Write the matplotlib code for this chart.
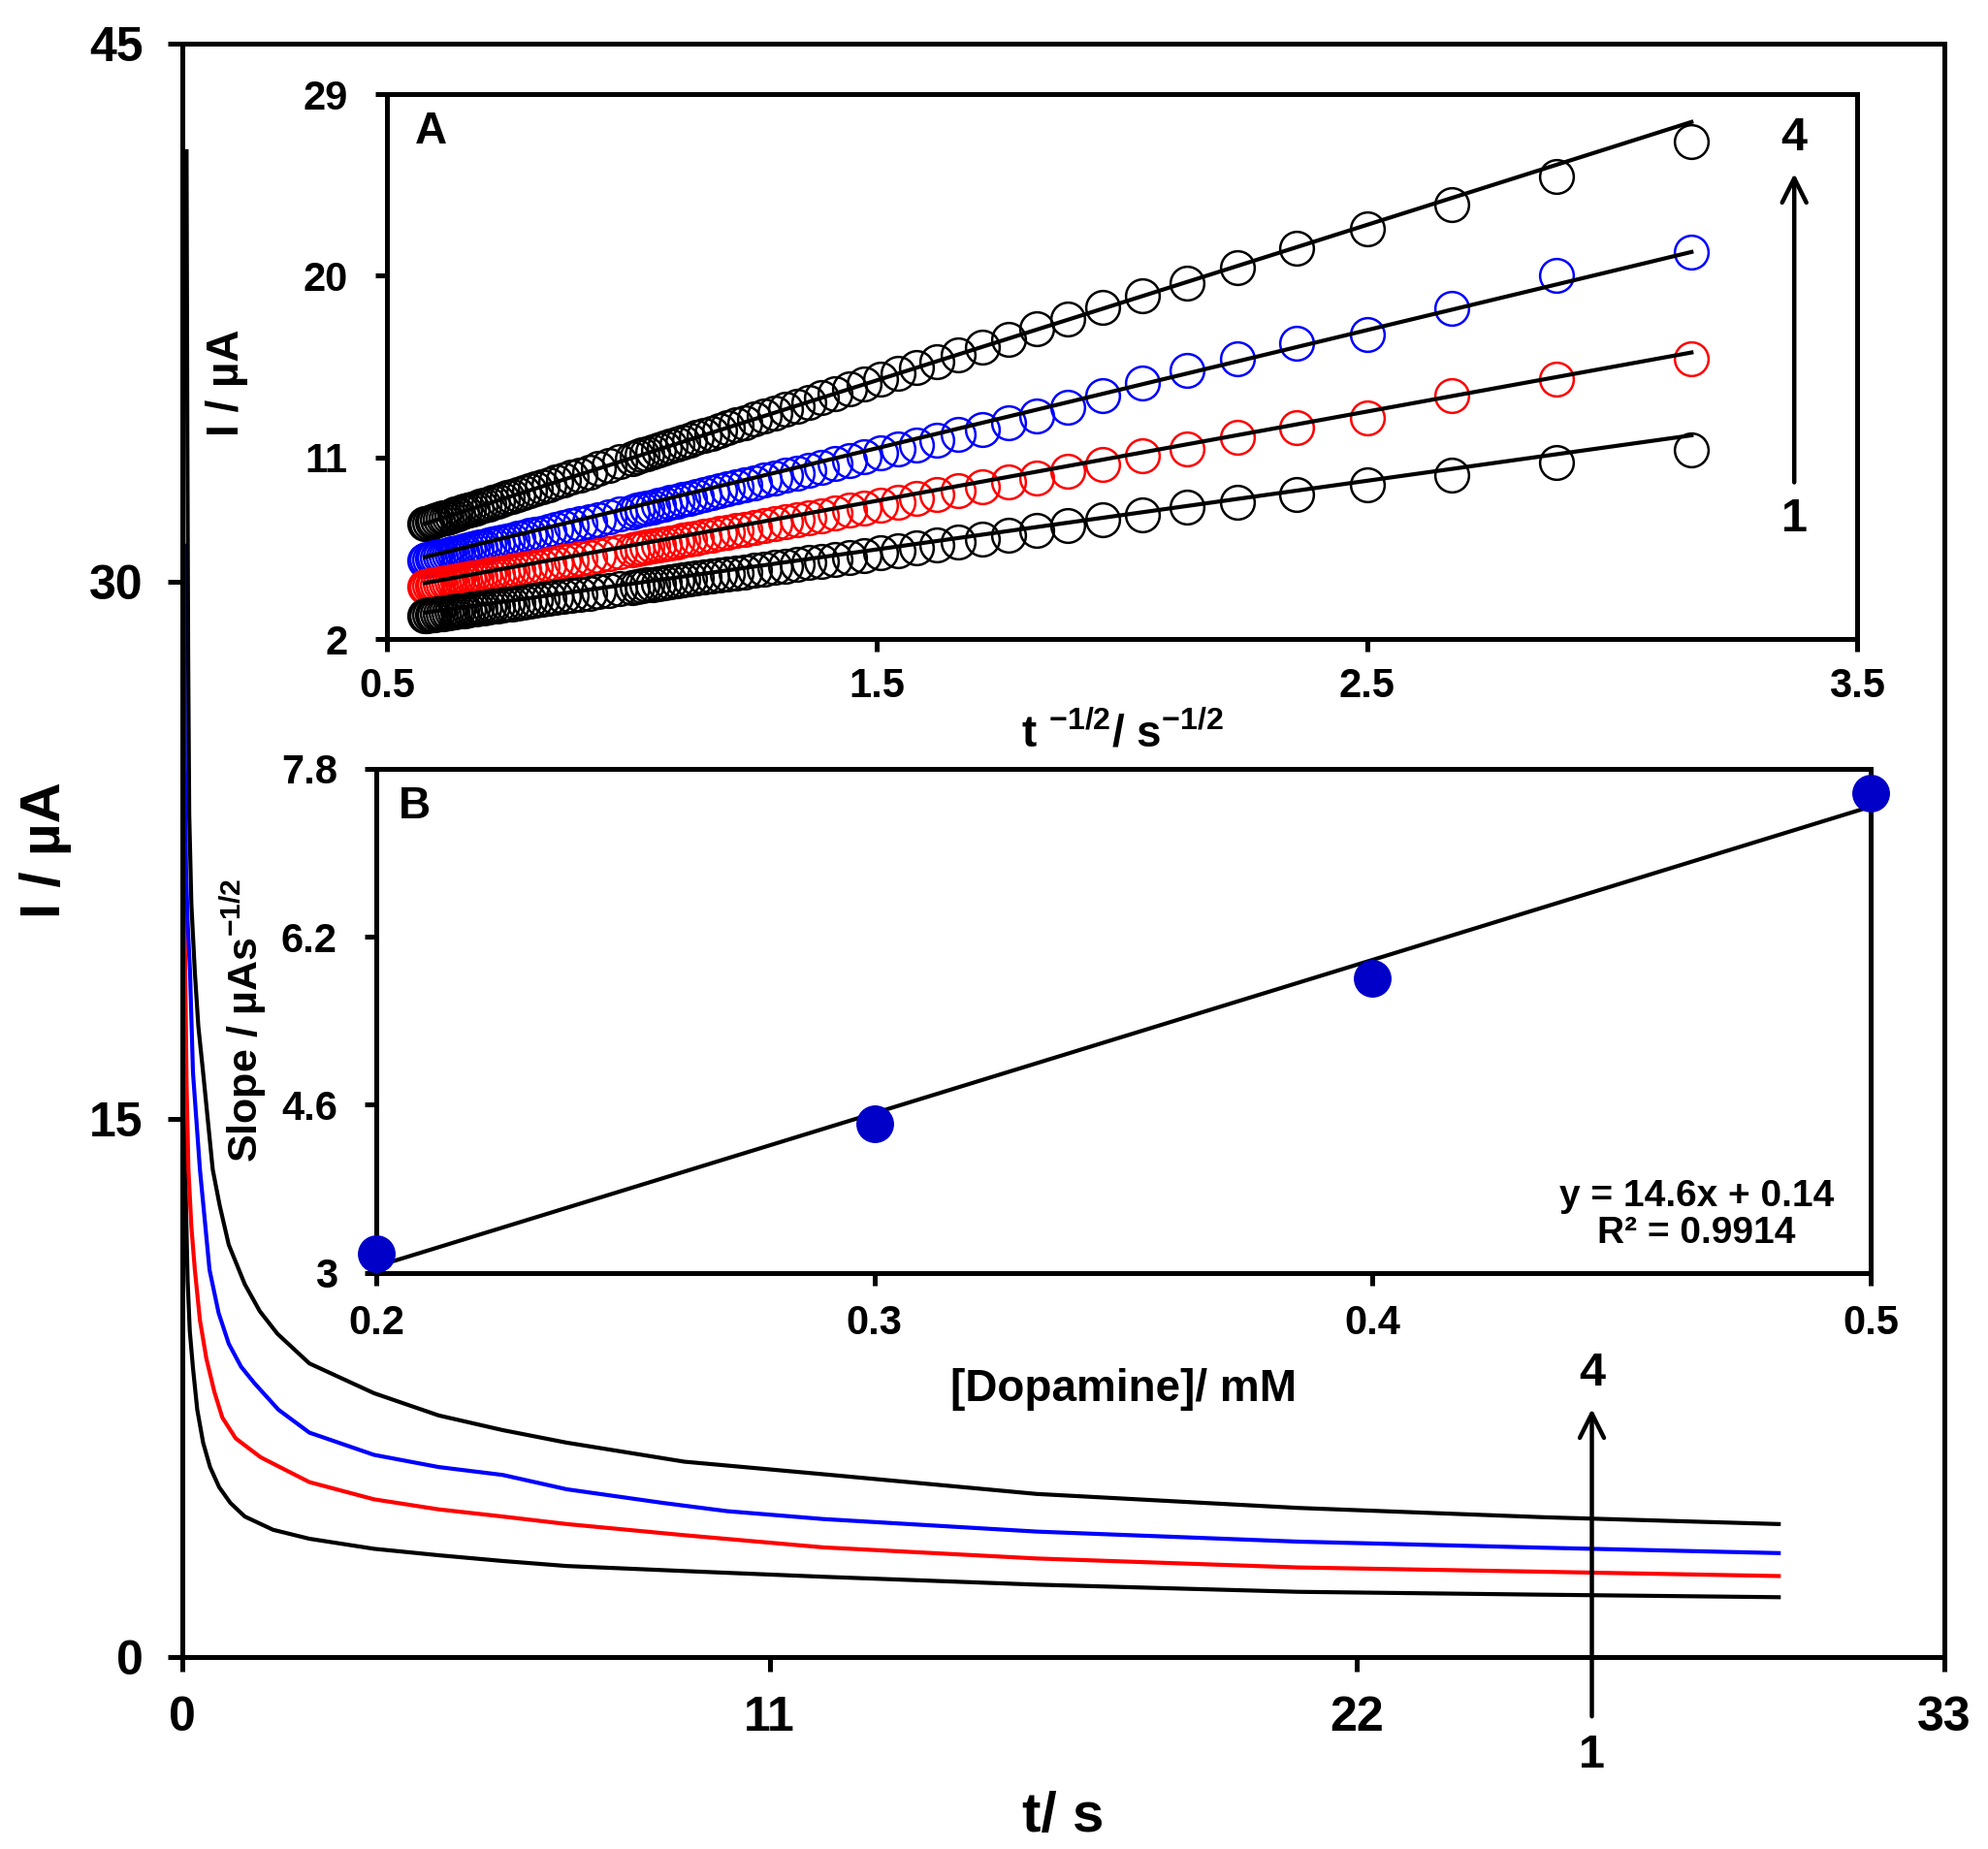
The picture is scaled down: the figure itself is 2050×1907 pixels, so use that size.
import numpy as np
import matplotlib.pyplot as plt

plt.rcParams['font.family'] = ['Liberation Sans', 'DejaVu Sans']
plt.rcParams['font.weight'] = 'bold'
plt.rcParams['mathtext.fontset'] = 'custom'
plt.rcParams['mathtext.rm'] = 'Liberation Sans:bold'
plt.rcParams['mathtext.it'] = 'Liberation Sans:bold'
plt.rcParams['mathtext.bf'] = 'Liberation Sans:bold'

# ---- main chronoamperograms (curves 1..4) ----
t1 = [0.02, 0.04, 0.07, 0.1, 0.14, 0.2, 0.28, 0.39, 0.52, 0.69, 0.9, 1.17, 1.7, 2.38, 3.59, 4.8, 6.0, 7.2,
      9.4, 12.0, 16.0, 20.9, 25.5, 29.9]
i1 = [18.0, 15.0, 12.5, 10.5, 9.1, 8.06, 6.9, 5.98, 5.3, 4.74, 4.3, 3.92, 3.55, 3.30, 3.02, 2.84, 2.68, 2.54,
      2.4, 2.24, 2.02, 1.82, 1.74, 1.67]

t2 = [0.03, 0.04, 0.055, 0.08, 0.115, 0.17, 0.235, 0.33, 0.45, 0.6, 0.75, 1.0, 1.47, 2.38, 3.59, 4.8, 6.0, 7.2,
      9.4, 12.0, 16.0, 20.9, 25.5, 29.9]
i2 = [24.0, 21.5, 19.1, 16.0, 13.6, 12.0, 10.8, 9.4, 8.33, 7.4, 6.68, 6.1, 5.57, 4.88, 4.40, 4.12, 3.92, 3.71,
      3.4, 3.06, 2.75, 2.5, 2.38, 2.26]

t3 = [0.04, 0.05, 0.07, 0.1, 0.145, 0.2, 0.33, 0.51, 0.68, 0.87, 1.1, 1.35, 1.8, 2.38, 3.59, 4.8, 6.0, 7.2,
      9.0, 10.2, 12.0, 16.0, 20.9, 25.5, 29.9]
i3 = [31.0, 25.0, 22.0, 20.5, 19.1, 16.3, 13.6, 10.8, 9.6, 8.74, 8.1, 7.64, 6.9, 6.26, 5.64, 5.3, 5.08, 4.68,
      4.3, 4.07, 3.85, 3.5, 3.22, 3.05, 2.9]

t4 = [0.08, 0.095, 0.11, 0.13, 0.17, 0.235, 0.3, 0.39, 0.47, 0.57, 0.7, 0.87, 1.17, 1.45, 1.78, 2.38, 3.59,
      4.8, 6.0, 7.2, 9.4, 12.0, 16.0, 20.9, 25.5, 29.9]
i4 = [42.0, 34.0, 28.0, 23.5, 21.0, 19.1, 17.6, 16.3, 15.1, 13.6, 12.6, 11.5, 10.4, 9.65, 9.02, 8.19, 7.36,
      6.74, 6.33, 5.98, 5.45, 5.1, 4.55, 4.16, 3.9, 3.71]

main_colors = ['black', 'red', 'blue', 'black']

# ---- inset A: Cottrell plot, I vs t^-1/2 (sampling times in s) ----
t_a = [0.10, 0.12, 0.14, 0.16, 0.18, 0.20, 0.22, 0.24, 0.26, 0.28, 0.30, 0.32, 0.34, 0.36, 0.38,
       0.40, 0.42, 0.44, 0.46, 0.48, 0.50,
       0.52, 0.54, 0.56, 0.58, 0.60, 0.62, 0.64, 0.66, 0.68, 0.70, 0.72, 0.74, 0.76, 0.78, 0.80,
       0.82, 0.84, 0.86, 0.88, 0.90, 0.92, 0.94, 0.96, 0.98, 1.00,
       1.05, 1.10, 1.15, 1.20, 1.25, 1.30, 1.35, 1.40, 1.45, 1.50, 1.55, 1.60, 1.65, 1.70, 1.75,
       1.80, 1.85, 1.90, 1.95, 2.00, 2.05, 2.10, 2.15, 2.20, 2.25, 2.30, 2.35, 2.40, 2.45, 2.50,
       2.55, 2.60, 2.65, 2.70, 2.75, 2.80, 2.85, 2.90, 2.95, 3.00]

a1 = [11.36, 10.74, 10.1, 9.63, 9.15, 8.77, 8.53, 8.16, 7.92, 7.63, 7.38, 7.14, 6.96, 6.80, 6.65,
      6.51, 6.39, 6.27, 6.15, 6.05, 5.95,
      5.86, 5.78, 5.69, 5.62, 5.54, 5.47, 5.40, 5.34, 5.28, 5.22, 5.17, 5.11, 5.06, 5.01, 4.96,
      4.92, 4.87, 4.83, 4.79, 4.75, 4.71, 4.67, 4.64, 4.60, 4.57,
      4.49, 4.41, 4.34, 4.28, 4.21, 4.16, 4.10, 4.05, 4.00, 3.95, 3.91, 3.87, 3.82, 3.79, 3.75,
      3.71, 3.68, 3.65, 3.62, 3.59, 3.56, 3.53, 3.50, 3.47, 3.45, 3.42, 3.40, 3.38, 3.36, 3.33,
      3.31, 3.29, 3.27, 3.26, 3.24, 3.22, 3.20, 3.18, 3.17, 3.15]
a2 = [15.88, 14.9, 14.05, 12.95, 12.47, 12.0, 11.4, 11.1, 10.66, 10.3, 10.0, 9.78, 9.55, 9.34, 9.15,
      8.97, 8.80, 8.65, 8.50, 8.37, 8.24,
      8.12, 8.01, 7.90, 7.80, 7.70, 7.61, 7.52, 7.44, 7.36, 7.28, 7.22, 7.14, 7.08, 7.01, 6.95,
      6.89, 6.83, 6.77, 6.72, 6.67, 6.62, 6.57, 6.53, 6.48, 6.43,
      6.33, 6.23, 6.14, 6.06, 5.97, 5.90, 5.83, 5.76, 5.69, 5.63, 5.58, 5.52, 5.47, 5.42, 5.37,
      5.32, 5.28, 5.24, 5.20, 5.16, 5.12, 5.08, 5.05, 5.01, 4.98, 4.95, 4.92, 4.89, 4.86, 4.83,
      4.80, 4.78, 4.75, 4.73, 4.70, 4.68, 4.66, 4.63, 4.61, 4.59]
a3 = [21.17, 20.0, 18.4, 17.1, 16.67, 15.88, 15.32, 14.68, 14.05, 13.5, 13.07, 12.7, 12.40, 12.12, 11.87,
      11.63, 11.42, 11.22, 11.02, 10.84, 10.68,
      10.53, 10.38, 10.23, 10.10, 9.98, 9.86, 9.74, 9.63, 9.53, 9.43, 9.34, 9.24, 9.15, 9.07, 8.99,
      8.91, 8.83, 8.76, 8.69, 8.62, 8.56, 8.49, 8.44, 8.37, 8.32,
      8.18, 8.05, 7.93, 7.82, 7.71, 7.61, 7.52, 7.43, 7.34, 7.26, 7.19, 7.12, 7.05, 6.98, 6.92,
      6.86, 6.80, 6.75, 6.69, 6.64, 6.59, 6.55, 6.50, 6.45, 6.41, 6.37, 6.33, 6.29, 6.25, 6.21,
      6.18, 6.15, 6.11, 6.08, 6.05, 6.02, 5.99, 5.96, 5.93, 5.90]
a4 = [26.67, 24.9, 23.55, 22.33, 21.36, 20.42, 19.64, 19.02, 18.41, 17.85, 17.37, 16.85, 16.47, 16.10, 15.76,
      15.44, 15.15, 14.88, 14.62, 14.38, 14.15,
      13.95, 13.74, 13.55, 13.37, 13.20, 13.04, 12.89, 12.74, 12.60, 12.46, 12.34, 12.21, 12.09, 11.98, 11.87,
      11.76, 11.66, 11.56, 11.47, 11.38, 11.29, 11.20, 11.12, 11.04, 10.96,
      10.78, 10.60, 10.45, 10.29, 10.14, 10.01, 9.89, 9.77, 9.65, 9.54, 9.44, 9.35, 9.25, 9.16, 9.08,
      9.00, 8.92, 8.84, 8.77, 8.70, 8.63, 8.57, 8.51, 8.45, 8.39, 8.33, 8.28, 8.22, 8.18, 8.12,
      8.08, 8.03, 7.99, 7.95, 7.90, 7.86, 7.82, 7.78, 7.74, 7.70]

# linear fits drawn through each set (slope, intercept)
fit_a = [(3.4, 1.34), (4.42, 2.22), (5.85, 2.68), (7.7, 3.27)]
inset_colors = ['black', 'red', 'blue', 'black']

# ---- inset B: slope vs dopamine concentration ----
conc = [0.2, 0.3, 0.4, 0.5]
slopes = [3.18, 4.42, 5.8, 7.57]
fit_b = (14.6, 0.14)
b_yticks = [3, 4.6, 6.2, 7.8]
b_ylabels = ['3', '4.6', '6.2', '7.8']

LW = 3.0
SW = 3.6

fig = plt.figure(figsize=(20.5, 19.07), dpi=100)

# main plot
ax = fig.add_axes([0.0917, 0.1038, 0.8863, 0.8726])
for t, i, c in zip([t1, t2, t3, t4], [i1, i2, i3, i4], main_colors):
    ax.plot(t, i, color=c, lw=LW, solid_joinstyle='round')
ax.set_xlim(0, 33)
ax.set_ylim(0, 45)
ax.set_xticks([0, 11, 22, 33])
ax.set_yticks([0, 15, 30, 45])
ax.tick_params(direction='out', length=11, width=SW, labelsize=36, pad=18)
for s in ax.spines.values():
    s.set_linewidth(SW)
ax.set_xlabel('t/ s', fontsize=42, fontweight='bold')
ax.set_ylabel('I / µA', fontsize=42, fontweight='bold')
ax.xaxis.set_label_coords(0.5, -0.083)
ax.yaxis.set_label_coords(-0.063, 0.5)
ax.annotate('', xy=(26.4, 7.0), xytext=(26.4, -1.73), annotation_clip=False,
            arrowprops=dict(arrowstyle='->', lw=3.2, color='black', mutation_scale=45))
ax.text(26.4, 7.9, '4', fontsize=35, ha='center', va='center', clip_on=False)
ax.text(26.4, -2.73, '1', fontsize=35, ha='center', va='center', clip_on=False)

# inset A
axa = fig.add_axes([0.1946, 0.6544, 0.7395, 0.2947])
x_a = 1 / np.sqrt(np.array(t_a))
for y, c in zip([a4, a3, a2, a1], inset_colors[::-1]):
    axa.plot(x_a, y, 'o', mfc='none', mec=c, mew=1.8, ms=25)
for m, b in fit_a:
    axa.plot([x_a.min(), x_a.max()], [m * x_a.min() + b, m * x_a.max() + b], color='black', lw=LW)
axa.set_xlim(0.5, 3.5)
axa.set_ylim(2, 29)
axa.set_xticks([0.5, 1.5, 2.5, 3.5])
axa.set_yticks([2, 11, 20, 29])
axa.tick_params(direction='out', length=9, width=SW, labelsize=30)
axa.tick_params(axis='y', pad=20)
axa.tick_params(axis='x', pad=12)
for s in axa.spines.values():
    s.set_linewidth(SW)
axa.set_xlabel('t $^{-1/2}$/ s$^{-1/2}$', fontsize=33, fontweight='bold')
axa.set_ylabel('I / µA', fontsize=33, fontweight='bold')
axa.xaxis.set_label_coords(0.5, -0.135)
axa.yaxis.set_label_coords(-0.094, 0.47)
axa.text(0.019, 0.93, 'A', transform=axa.transAxes, fontsize=33, va='center')
axa.annotate('', xy=(3.372, 25.2), xytext=(3.372, 9.63),
             arrowprops=dict(arrowstyle='->', lw=3.2, color='black', mutation_scale=45))
axa.text(3.372, 26.8, '4', fontsize=35, ha='center', va='center')
axa.text(3.372, 7.92, '1', fontsize=35, ha='center', va='center')

# inset B
axb = fig.add_axes([0.1893, 0.3117, 0.7517, 0.2725])
xb = np.array([conc[0], conc[-1]])
axb.plot(xb, fit_b[0] * xb + fit_b[1], color='black', lw=LW, zorder=2)
axb.plot(conc, slopes, 'o', color='#0000C8', ms=27, zorder=3, clip_on=False)
axb.set_xlim(0.2, 0.5)
axb.set_ylim(3, 7.8)
axb.set_xticks([0.2, 0.3, 0.4, 0.5])
axb.set_yticks(b_yticks)
axb.set_yticklabels(b_ylabels)
axb.tick_params(direction='out', length=9, width=SW, labelsize=30)
axb.tick_params(axis='y', pad=20)
axb.tick_params(axis='x', pad=14)
for s in axb.spines.values():
    s.set_linewidth(SW)
axb.set_xlabel('[Dopamine]/ mM', fontsize=33, fontweight='bold')
axb.set_ylabel('Slope / µAs$^{-1/2}$', fontsize=31, fontweight='bold')
axb.xaxis.set_label_coords(0.5, -0.19)
axb.yaxis.set_label_coords(-0.072, 0.5)
axb.text(0.0145, 0.925, 'B', transform=axb.transAxes, fontsize=33, va='center')
axb.text(0.465, 3.55, 'y = 14.6x + 0.14\nR² = 0.9914', fontsize=28, ha='center', va='center',
         linespacing=1.1)

fig.savefig('out.png', dpi=100)
